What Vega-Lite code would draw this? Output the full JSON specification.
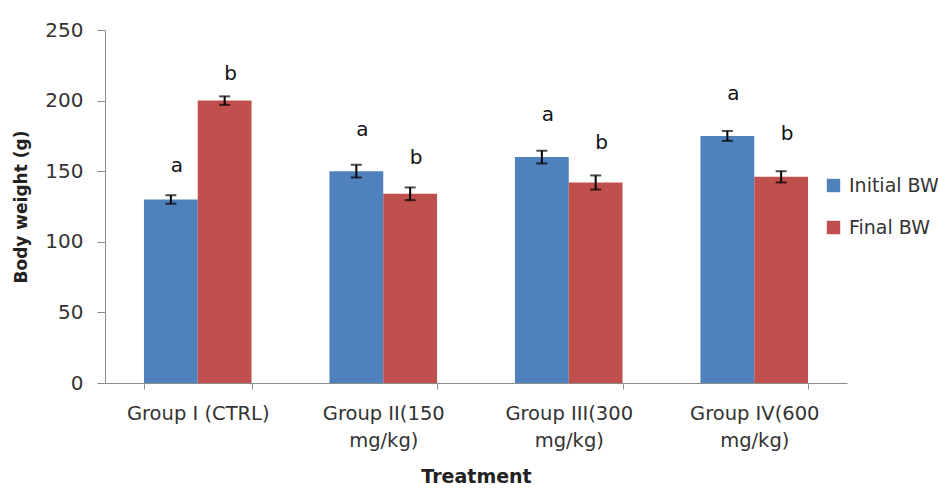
{
  "$schema": "https://vega.github.io/schema/vega-lite/v6.json",
  "autosize": {"type": "none"},
  "padding": {"left": 105, "top": 30, "right": 91, "bottom": 108},
  "width": 742,
  "height": 353,
  "background": "white",
  "config": {"view": {"stroke": null}},
  "data": {
    "values": [
      {"group": "Group I (CTRL)", "series": "Initial BW", "value": 130, "err": 3, "letter": "a", "ly": 154},
      {"group": "Group I (CTRL)", "series": "Final BW", "value": 200, "err": 3, "letter": "b", "ly": 219},
      {"group": "Group II(150 mg/kg)", "series": "Initial BW", "value": 150, "err": 4.5, "letter": "a", "ly": 179},
      {"group": "Group II(150 mg/kg)", "series": "Final BW", "value": 134, "err": 4.5, "letter": "b", "ly": 159},
      {"group": "Group III(300 mg/kg)", "series": "Initial BW", "value": 160, "err": 4.5, "letter": "a", "ly": 190},
      {"group": "Group III(300 mg/kg)", "series": "Final BW", "value": 142, "err": 5, "letter": "b", "ly": 170},
      {"group": "Group IV(600 mg/kg)", "series": "Initial BW", "value": 175, "err": 3.5, "letter": "a", "ly": 205},
      {"group": "Group IV(600 mg/kg)", "series": "Final BW", "value": 146, "err": 4, "letter": "b", "ly": 176}
    ]
  },
  "encoding": {
    "x": {
      "field": "group", "type": "nominal", "sort": null,
      "scale": {"paddingInner": 0.42, "paddingOuter": 0.21},
      "axis": {
        "title": "Treatment", "labelAngle": 0, "tickBand": "extent",
        "labelExpr": "indexof(datum.label, ' mg') > 0 ? [substring(datum.label, 0, indexof(datum.label, ' mg')), 'mg/kg)'] : datum.label",
        "labelFont": "DejaVu Sans", "labelFontSize": 19.5, "labelColor": "#333333", "labelPadding": 15, "labelLineHeight": 27,
        "titleFont": "DejaVu Sans", "titleFontSize": 19, "titleFontWeight": "bold", "titleColor": "#222222", "titlePadding": 18,
        "domainColor": "#8c8c8c", "tickColor": "#8c8c8c", "tickSize": 6, "grid": false
      }
    },
    "xOffset": {"field": "series", "type": "nominal", "sort": ["Initial BW", "Final BW"], "scale": {"paddingInner": 0, "paddingOuter": 0}}
  },
  "layer": [
    {
      "mark": {"type": "bar"},
      "encoding": {
        "y": {
          "field": "value", "type": "quantitative",
          "scale": {"domain": [0, 250], "nice": false},
          "axis": {
            "title": "Body weight (g)", "values": [0, 50, 100, 150, 200, 250], "grid": false,
            "labelFont": "DejaVu Sans", "labelFontSize": 20, "labelColor": "#333333", "labelPadding": 14,
            "titleFont": "DejaVu Sans", "titleFontSize": 17, "titleFontWeight": "bold", "titleColor": "#222222", "titlePadding": 14,
            "domainColor": "#8c8c8c", "tickColor": "#8c8c8c", "tickSize": 8
          }
        },
        "color": {
          "field": "series", "type": "nominal", "sort": ["Initial BW", "Final BW"],
          "scale": {"domain": ["Initial BW", "Final BW"], "range": ["#4F81BD", "#C0504D"]},
          "legend": {
            "title": null, "orient": "none", "legendX": 719, "legendY": 146,
            "symbolType": "square", "symbolSize": 180, "symbolStrokeWidth": 0,
            "labelFont": "DejaVu Sans", "labelFontSize": 19, "labelColor": "#333333", "labelOffset": 6,
            "rowPadding": 22
          }
        }
      }
    },
    {
      "mark": {"type": "errorbar", "ticks": {"size": 11, "thickness": 2, "color": "black"}, "rule": {"strokeWidth": 2, "color": "black"}},
      "encoding": {
        "y": {"field": "value", "type": "quantitative", "title": "Body weight (g)"},
        "yError": {"field": "err"}
      }
    },
    {
      "mark": {"type": "text", "font": "DejaVu Sans", "fontSize": 20, "color": "#111111", "baseline": "middle", "dx": 6},
      "encoding": {
        "y": {"field": "ly", "type": "quantitative", "title": "Body weight (g)"},
        "text": {"field": "letter"}
      }
    }
  ]
}
